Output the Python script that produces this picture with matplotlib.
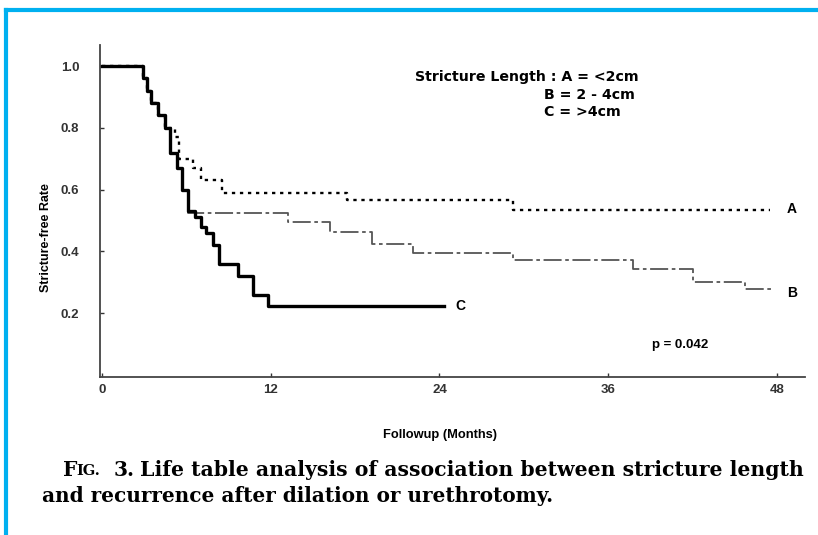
import matplotlib
matplotlib.use("Agg")
import matplotlib.pyplot as plt
from matplotlib.lines import Line2D

# ---- data ----
months_ticks = [0, 12, 24, 36, 48]
rate_ticks = [0.2, 0.4, 0.6, 0.8, 1.0]
rate_tick_labels = ["0.2", "0.4", "0.6", "0.8", "1.0"]

C_t = [0, 2.9, 3.2, 3.5, 4.0, 4.5, 4.8, 5.3, 5.7, 6.1, 6.6, 7.0, 7.4, 7.9, 8.3, 9.7, 10.7, 11.8, 24.3]
C_v = [1.0, 0.96, 0.92, 0.88, 0.84, 0.80, 0.72, 0.67, 0.60, 0.53, 0.51, 0.48, 0.46, 0.42, 0.36, 0.32, 0.26, 0.225, 0.225]

A_t = [0, 2.9, 3.2, 3.5, 4.0, 4.5, 5.2, 5.5, 6.5, 7.0, 8.5, 17.4, 29.2, 47.5]
A_v = [1.0, 0.96, 0.92, 0.88, 0.84, 0.80, 0.77, 0.70, 0.67, 0.63, 0.59, 0.566, 0.534, 0.534]

B_t = [0, 2.9, 3.2, 3.5, 4.0, 4.5, 4.8, 5.3, 5.7, 6.1, 13.2, 16.2, 19.2, 22.1, 29.2, 37.8, 42.0, 45.7, 47.7]
B_v = [1.0, 0.96, 0.92, 0.88, 0.84, 0.80, 0.72, 0.67, 0.60, 0.525, 0.497, 0.464, 0.424, 0.394, 0.372, 0.342, 0.302, 0.28, 0.28]

legend_lines = ["Stricture Length : A = <2cm", "B = 2 - 4cm", "C = >4cm"]
p_text = "p = 0.042"
caption1 = "Life table analysis of association between stricture length"
caption2 = "and recurrence after dilation or urethrotomy."

W, H = 818, 535

def fx(px):
    return px / W

def fy(py):
    return 1 - py / H

# ---- figure ----
fig = plt.figure(figsize=(8.18, 5.35), dpi=100)
fig.patch.set_facecolor("white")

ax = fig.add_axes([fx(100), fy(377), (805 - 100) / W, (377 - 45) / H])
ax.set_xlim(-0.15, 50)
ax.set_ylim(-0.006, 1.068)

sans = "Liberation Sans"
wide = "DejaVu Sans"
ax.step(B_t, B_v, where="post", color="#555555", lw=1.3, linestyle=(0, (10, 2, 2, 2)), zorder=2)
ax.step(A_t, A_v, where="post", color="black", lw=1.7, linestyle=(0, (1.4, 2.0)), zorder=3)
ax.step(C_t, C_v, where="post", color="black", lw=2.4, zorder=4)

for s in ["top", "right"]:
    ax.spines[s].set_visible(False)
for s in ["left", "bottom"]:
    ax.spines[s].set_color("#444444")
    ax.spines[s].set_linewidth(1.3)

ax.set_xticks(months_ticks)
ax.set_xticklabels([str(m) for m in months_ticks], fontsize=9.5, fontweight="bold", family=sans)
ax.set_yticks(rate_ticks)
ax.set_yticklabels(rate_tick_labels, fontsize=9.5, fontweight="bold", family=sans)
ax.tick_params(axis="both", direction="in", length=3, width=1, colors="#333333")
ax.tick_params(axis="x", pad=5)
ax.tick_params(axis="y", pad=15)

fig.text(fx(440), fy(435), "Followup (Months)", fontsize=9.3, fontweight="bold", family=sans,
         ha="center", va="center")
fig.text(fx(46), fy(238), "Stricture-free Rate", fontsize=9, fontweight="bold", family=sans,
         ha="center", va="center", rotation=90)

# legend-like text
fig.text(fx(415), fy(77), legend_lines[0], fontsize=10.2, fontweight="bold", family=wide,
         va="center", ha="left")
fig.text(fx(544), fy(95), legend_lines[1], fontsize=10.2, fontweight="bold", family=wide,
         va="center", ha="left")
fig.text(fx(544), fy(112), legend_lines[2], fontsize=10.2, fontweight="bold", family=wide,
         va="center", ha="left")

# curve labels
ax.text(A_t[-1] + 1.2, A_v[-1] + 0.005, "A", fontsize=10, fontweight="bold", family=sans, va="center")
ax.text(B_t[-1] + 1.0, B_v[-1] - 0.015, "B", fontsize=10, fontweight="bold", family=sans, va="center")
ax.text(C_t[-1] + 0.8, C_v[-1], "C", fontsize=10, fontweight="bold", family=sans, va="center")

fig.text(fx(652), fy(345), p_text, fontsize=9.5, fontweight="bold", family=sans,
         va="center", ha="left")

# caption
serif = "DejaVu Serif"
fig.text(fx(63), fy(470), "F", fontsize=14.5, fontweight="bold", family=serif, va="center", ha="left")
fig.text(fx(76), fy(471), "IG.", fontsize=10.5, fontweight="bold", family=serif, va="center", ha="left")
fig.text(fx(114), fy(470), "3.", fontsize=14.5, fontweight="bold", family=serif, va="center", ha="left")
fig.text(fx(140), fy(470), caption1, fontsize=14.7, fontweight="bold", family=serif, va="center", ha="left")
fig.text(fx(42), fy(496), caption2, fontsize=14.4, fontweight="bold", family=serif, va="center", ha="left")

# cyan border
fig.add_artist(Line2D([fx(6), 1.0], [fy(10), fy(10)], transform=fig.transFigure,
                      color="#00B0F0", lw=3))
fig.add_artist(Line2D([fx(6), fx(6)], [fy(10), 0.0], transform=fig.transFigure,
                      color="#00B0F0", lw=3))

fig.savefig("out.png", dpi=100)
